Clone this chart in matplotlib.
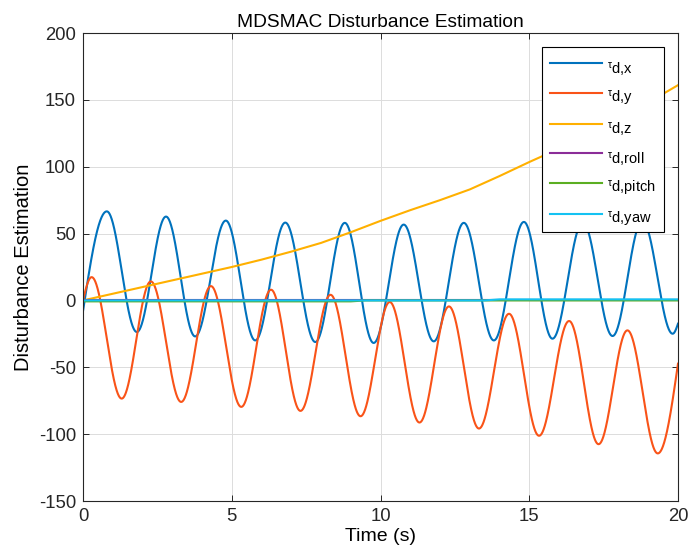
import numpy as np
import matplotlib
matplotlib.use("Agg")
import matplotlib.pyplot as plt
from matplotlib.transforms import ScaledTranslation

plt.rcParams['font.family'] = ['Liberation Sans', 'DejaVu Sans']
plt.rcParams['mathtext.fontset'] = 'custom'
plt.rcParams['mathtext.rm'] = 'Liberation Sans'
plt.rcParams['mathtext.it'] = 'Liberation Sans:italic'
plt.rcParams['mathtext.sf'] = 'Liberation Sans'
plt.rcParams['axes.unicode_minus'] = False

# extrema of the oscillating estimates (time s, value)
x_t = [0, 0.80, 1.81, 2.79, 3.77, 4.80, 5.79, 6.80, 7.81, 8.80, 9.77, 10.78,
       11.79, 12.80, 13.81, 14.82, 15.78, 16.80, 17.80, 18.80, 19.82, 20]
x_v = [-8, 66.6, -23.6, 62.7, -26.9, 59.7, -29.9, 58.2, -31.1, 58.0, -31.8, 56.7,
       -30.6, 58.0, -29.9, 58.7, -28.6, 58.5, -26.6, 59.5, -24.9, -17.4]

y_t = [0, 0.29, 1.30, 2.28, 3.30, 4.30, 5.32, 6.32, 7.31, 8.32, 9.33, 10.31,
       11.31, 12.30, 13.31, 14.32, 15.33, 16.34, 17.33, 18.30, 19.32, 20]
y_v = [0, 17.4, -73.4, 14.2, -75.9, 10.7, -79.6, 8.0, -82.6, 4.2, -86.6, -1.2,
       -91.3, -4.5, -95.8, -10.0, -101.2, -15.4, -107.5, -22.4, -114.4, -47.3]

# slowly growing z estimate, one value per second
z_t = list(range(21))
z_v = [0, 5, 10, 15, 20, 25, 30.5, 36.5, 43, 51, 59.5, 67.5, 75, 83, 93, 103.5,
       113.5, 124.5, 136, 148, 161]

# rotational channels stay near zero
roll_t = [0, 20]
roll_v = [0, 0]
pitch_t = [0, 9.0, 9.5, 20]
pitch_v = [-0.7, -0.7, 0, 0]
yaw_t = [0, 13.5, 14.0, 20]
yaw_v = [0, 0, 0.8, 0.8]

subs = ['x', 'y', 'z', 'roll', 'pitch', 'yaw']
labels = [r'$^{\mathrm{\tau}}$' + 'd,' + s for s in subs]
colors = ['#0072BD', '#F95318', '#FFB000', '#8B2D98', '#5BAE22', '#14C2F2']


def wave(kt, kv, t):
    # smooth arcs between successive extrema; the first and last
    # points are not extrema, so those segments use a quarter arc
    out = np.empty_like(t)
    n = len(kt) - 1
    for i in range(n):
        m = (t >= kt[i]) & (t <= kt[i + 1])
        s = (t[m] - kt[i]) / (kt[i + 1] - kt[i])
        if i == 0:
            w = np.sin(np.pi * s / 2)
        elif i == n - 1:
            w = 1 - np.cos(np.pi * s / 2)
        else:
            w = (1 - np.cos(np.pi * s)) / 2
        out[m] = kv[i] + (kv[i + 1] - kv[i]) * w
    return out


t = np.linspace(0, 20, 4001)

fig = plt.figure(figsize=(6.89, 5.58), dpi=100)
ax = fig.add_axes([83 / 689, 1 - 501 / 558, 595 / 689, 468 / 558])

ax.plot(t, wave(x_t, x_v, t), color=colors[0], lw=1.5, label=labels[0])
ax.plot(t, wave(y_t, y_v, t), color=colors[1], lw=1.5, label=labels[1])
ax.plot(z_t, z_v, color=colors[2], lw=1.5, label=labels[2])
ax.plot(roll_t, roll_v, color=colors[3], lw=1.5, label=labels[3])
ax.plot(pitch_t, pitch_v, color=colors[4], lw=1.5, label=labels[4])
ax.plot(yaw_t, yaw_v, color=colors[5], lw=1.5, label=labels[5])

ax.set_xlim(0, 20)
ax.set_ylim(-150, 200)
ax.set_xticks([0, 5, 10, 15, 20])
ax.set_yticks(np.arange(-150, 201, 50))
ax.grid(True, color='#dcdcdc', lw=0.7)
ax.set_axisbelow(True)
ax.tick_params(direction='in', length=4, top=True, right=True,
               labelsize=13.3, colors='#262626', width=0.7, pad=5)
for sp in ax.spines.values():
    sp.set_color('#262626')
    sp.set_linewidth(0.8)

ax.set_title('MDSMAC Disturbance Estimation', fontsize=13.8, pad=4)
ax.set_xlabel('Time (s)', fontsize=14, labelpad=2)
ax.set_ylabel('Disturbance Estimation', fontsize=14.5, labelpad=4)

leg = ax.legend(loc='upper right', fontsize=10.5, handlelength=3.6,
                labelspacing=0.8, borderaxespad=0.95, handletextpad=0.35,
                borderpad=0.55, fancybox=False, framealpha=1, edgecolor='black')
leg.get_frame().set_linewidth(0.8)
# subscript text sits a little below the legend line
for txt in leg.get_texts():
    txt.set_transform(txt.get_transform() + ScaledTranslation(0, -3.5 / 72, fig.dpi_scale_trans))

fig.savefig('out.png', dpi=100)
